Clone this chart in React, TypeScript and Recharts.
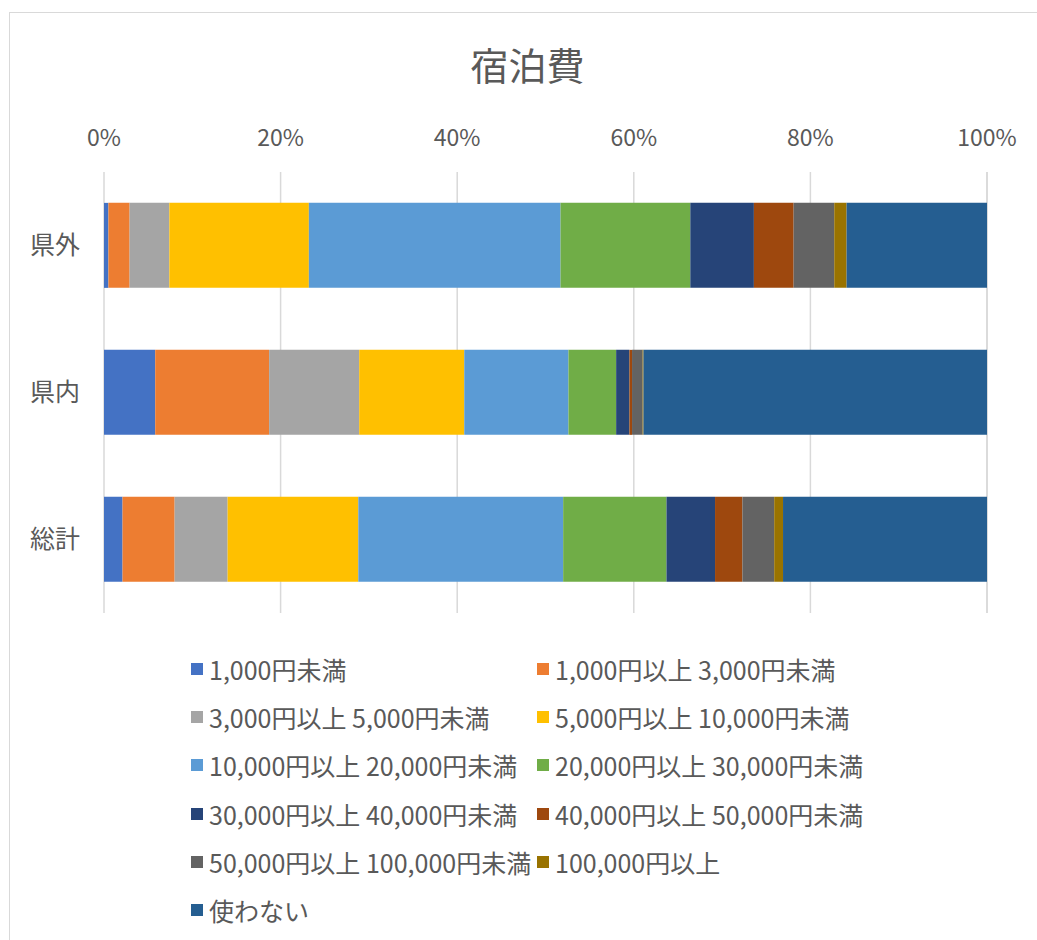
import { BarChart, Bar, XAxis, YAxis, CartesianGrid } from 'recharts';

const categories = ['県外', '県内', '総計'];

const seriesNames = [
  '1,000円未満',
  '1,000円以上 3,000円未満',
  '3,000円以上 5,000円未満',
  '5,000円以上 10,000円未満',
  '10,000円以上 20,000円未満',
  '20,000円以上 30,000円未満',
  '30,000円以上 40,000円未満',
  '40,000円以上 50,000円未満',
  '50,000円以上 100,000円未満',
  '100,000円以上',
  '使わない',
];

const seriesColors = [
  '#4472C4', '#ED7D31', '#A5A5A5', '#FFC000', '#5B9BD5', '#70AD47',
  '#264478', '#9E480E', '#636363', '#997300', '#255E91',
];

// percentages per category, same order as seriesNames
const kengai = [0.5, 2.4, 4.5, 15.8, 28.5, 14.7, 7.2, 4.5, 4.6, 1.4, 15.9];
const kennai = [5.8, 12.9, 10.2, 11.9, 11.8, 5.4, 1.5, 0.3, 1.2, 0.1, 38.9];
const total = [2.1, 5.9, 6.0, 14.8, 23.2, 11.7, 5.5, 3.1, 3.6, 1.0, 23.1];

const xTicks = [0, 20, 40, 60, 80, 100];

const rows = [kengai, kennai, total];
const data = categories.map((name, i) => {
  const row: Record<string, string | number> = { name };
  seriesNames.forEach((s, j) => {
    row[`s${j}`] = rows[i][j];
  });
  return row;
});

const FONT = '"Noto Sans CJK JP", "Noto Sans", sans-serif';
const TEXT = '#595959';

function LegendBlock() {
  return (
    <>
      {seriesNames.map((name, i) => {
        const col = i % 2;
        const row = Math.floor(i / 2);
        const cy = 669 + row * 48.2;
        return (
          <div
            key={name}
            style={{
              position: 'absolute',
              left: col === 0 ? 191 : 537,
              top: cy - 17,
              height: 34,
              display: 'flex',
              alignItems: 'center',
              whiteSpace: 'nowrap',
              fontFamily: FONT,
              fontSize: 25,
              color: TEXT,
            }}
          >
            <span
              style={{
                display: 'inline-block',
                width: 12,
                height: 12,
                background: seriesColors[i],
                marginRight: 6,
              }}
            />
            {name}
          </div>
        );
      })}
    </>
  );
}

export default function App() {
  return (
    <div
      style={{
        position: 'fixed',
        left: 0,
        top: 0,
        width: 1037,
        height: 940,
        overflow: 'hidden',
        background: '#fff',
      }}
    >
      <div
        style={{
          position: 'absolute',
          left: 9,
          top: 12,
          width: 1100,
          height: 1000,
          border: '1px solid #d9d9d9',
        }}
      />
      <div
        style={{
          position: 'absolute',
          left: 0,
          width: 1055,
          top: 41,
          textAlign: 'center',
          fontFamily: FONT,
          fontSize: 38,
          color: TEXT,
          lineHeight: '46px',
        }}
      >
        宿泊費
      </div>
      <div style={{ position: 'absolute', left: 0, top: 0 }}>
        <BarChart
          width={1037}
          height={940}
          data={data}
          layout="vertical"
          barCategoryGap="21%"
          margin={{ top: 142, right: 50, bottom: 327, left: 0 }}
        >
          <CartesianGrid horizontal={false} stroke="#d9d9d9" strokeWidth={1.5} />
          <XAxis
            type="number"
            orientation="top"
            height={30}
            domain={[0, 100]}
            ticks={xTicks}
            tickFormatter={(v: number) => `${v}%`}
            axisLine={false}
            tickLine={false}
            tickSize={0}
            tickMargin={26}
            tick={{ fill: TEXT, fontSize: 23, fontFamily: FONT }}
          />
          <YAxis
            type="category"
            dataKey="name"
            width={104}
            axisLine={false}
            tickLine={false}
            tickSize={0}
            tickMargin={24}
            tick={{ fill: TEXT, fontSize: 25, fontFamily: FONT }}
          />
          {seriesNames.map((s, j) => (
            <Bar
              key={s}
              dataKey={`s${j}`}
              name={s}
              stackId="a"
              fill={seriesColors[j]}
              isAnimationActive={false}
            />
          ))}
        </BarChart>
      </div>
      <LegendBlock />
    </div>
  );
}
